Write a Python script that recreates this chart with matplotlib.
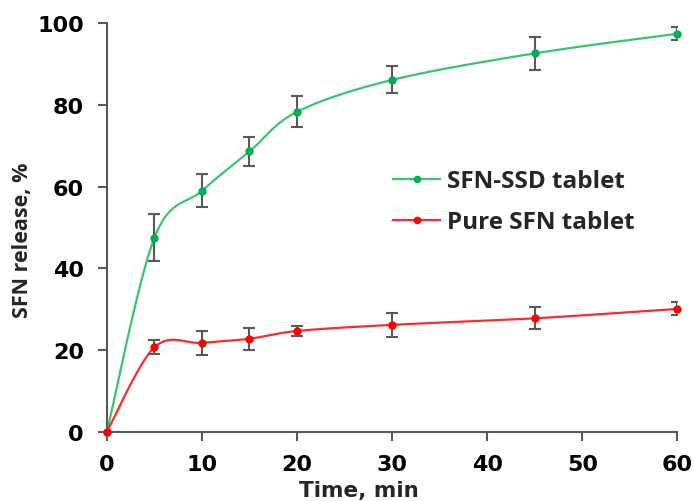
import numpy as np
import matplotlib
matplotlib.use("Agg")
import matplotlib.pyplot as plt

plt.rcParams['font.family'] = ['DejaVu Sans']

# datos
tiempo = [0, 5, 10, 15, 20, 30, 45, 60]
ssd = [0, 47.5, 59.0, 68.6, 78.3, 86.1, 92.6, 97.4]
ssd_err = [0, 5.7, 4.0, 3.5, 3.8, 3.3, 4.0, 1.6]
pura = [0, 20.7, 21.8, 22.8, 24.7, 26.2, 27.8, 30.1]
pura_err = [0, 1.7, 3.0, 2.7, 1.3, 3.0, 2.7, 1.6]

nombres = ['SFN-SSD tablet', 'Pure SFN tablet']


def suavizar(x, y, n=40):
    # curva suave tipo Excel (Catmull-Rom / Bezier)
    x = np.asarray(x, float)
    y = np.asarray(y, float)
    px = np.concatenate([[x[0]], x, [x[-1]]])
    py = np.concatenate([[y[0]], y, [y[-1]]])
    xs, ys = [], []
    t = np.linspace(0, 1, n)
    for i in range(1, len(px) - 2):
        p0 = np.array([px[i], py[i]])
        p3 = np.array([px[i + 1], py[i + 1]])
        p1 = p0 + (np.array([px[i + 1], py[i + 1]]) - np.array([px[i - 1], py[i - 1]])) / 6
        p2 = p3 - (np.array([px[i + 2], py[i + 2]]) - np.array([px[i], py[i]])) / 6
        b = ((1 - t) ** 3)[:, None] * p0 + (3 * (1 - t) ** 2 * t)[:, None] * p1 \
            + (3 * (1 - t) * t ** 2)[:, None] * p2 + (t ** 3)[:, None] * p3
        xs.extend(b[:, 0])
        ys.extend(b[:, 1])
    return np.array(xs), np.array(ys)


fig = plt.figure(figsize=(6.94, 5.02), dpi=100)
ax = fig.add_axes([0.154, 0.1375, 0.822, 0.8145])

gris = '#595959'
for y, err, col, lcol, nom in [(ssd, ssd_err, '#00b050', '#3cc46c', nombres[0]),
                               (pura, pura_err, '#ff0000', '#ff2a2a', nombres[1])]:
    sx, sy = suavizar(tiempo, y)
    ax.plot(sx, sy, color=lcol, lw=1.6, zorder=2)
    ax.errorbar(tiempo, y, yerr=err, fmt='none', ecolor=gris, elinewidth=1.5,
                capsize=4, capthick=1.5, zorder=3)
    ax.plot(tiempo, y, 'o', color=col, ms=5, zorder=4, clip_on=False)
    ax.plot([], [], '-o', color=lcol, mfc=col, mec=col, ms=4.5, lw=1.6, label=nom)

ax.set_xlim(0, 60)
ax.set_ylim(0, 100)
ax.set_xticks(range(0, 61, 10))
ax.set_yticks(range(0, 101, 20))
for s in ['top', 'right']:
    ax.spines[s].set_visible(False)
for s in ['left', 'bottom']:
    ax.spines[s].set_color(gris)
    ax.spines[s].set_linewidth(1.5)
ax.tick_params(axis='both', direction='out', length=6.5, width=1.5, color=gris,
               labelsize=16, labelcolor='black')
ax.tick_params(axis='x', pad=9)
ax.tick_params(axis='y', pad=10)
for lab in ax.get_xticklabels() + ax.get_yticklabels():
    lab.set_fontweight('bold')
ax.set_xlabel('Time, min', fontsize=15.5, fontweight='bold', color='#262626')
ax.xaxis.set_label_coords(0.441, -0.118)
ax.set_ylabel('SFN release, %', fontsize=15.5, fontweight='bold', color='#262626',
              family=['Open Sans', 'DejaVu Sans'])
ax.yaxis.set_label_coords(-0.130, 0.472)

ax.legend(loc='center left', bbox_to_anchor=(0.566, 0.596), bbox_transform=fig.transFigure,
          frameon=False, prop={'family': ['Open Sans', 'DejaVu Sans'], 'weight': 'bold', 'size': 17.5},
          handlelength=1.95, handletextpad=0.28, labelspacing=0.7, borderpad=0,
          borderaxespad=0, labelcolor='#262626')

fig.savefig('out.png', dpi=100)
